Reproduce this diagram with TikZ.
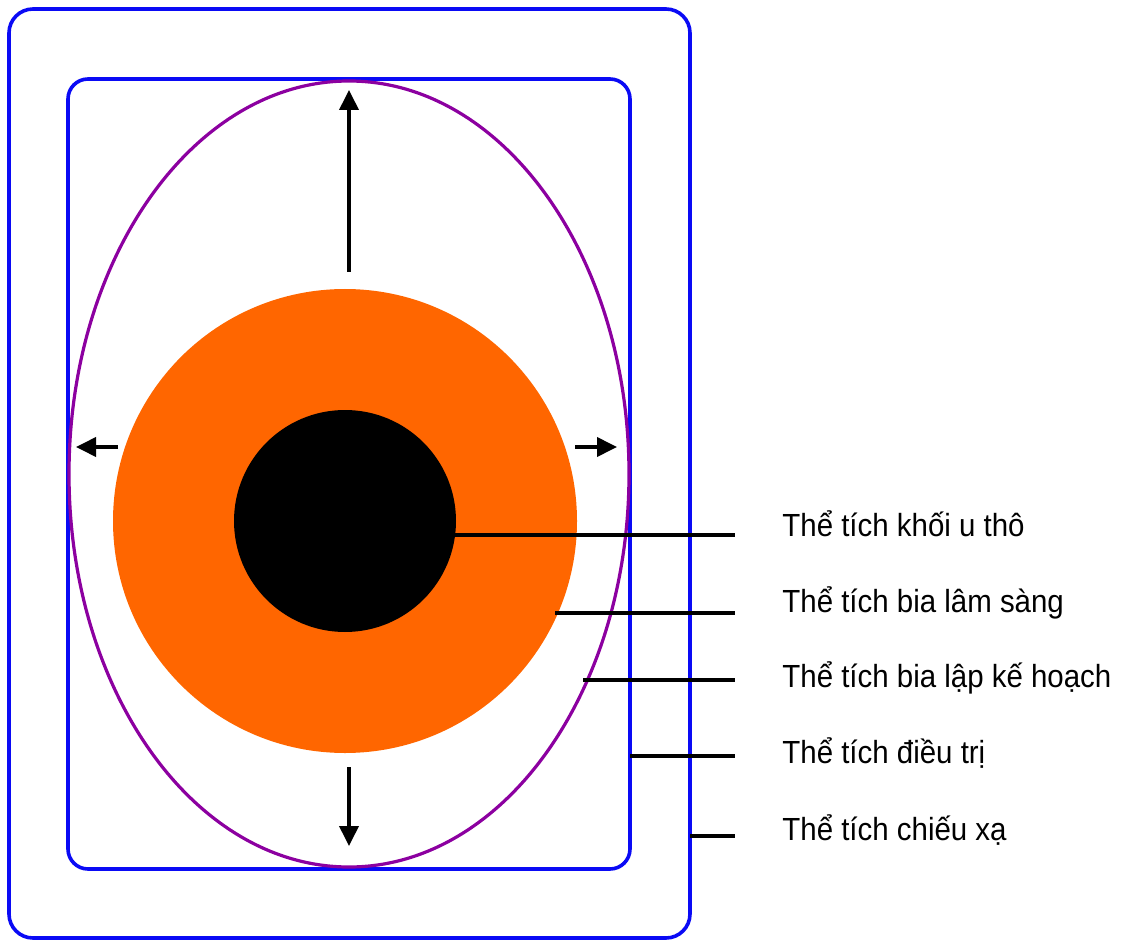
\documentclass[tikz,border=0pt]{standalone}
\usepackage{fontspec}
\setmainfont{Liberation Sans}[FakeStretch=0.92]
\usetikzlibrary{arrows.meta}
\definecolor{volblue}{RGB}{10,10,245}
\definecolor{volpurple}{RGB}{140,0,160}
\definecolor{tumororange}{RGB}{255,102,0}

\begin{document}
\begin{tikzpicture}[x=0.5pt, y=-0.5pt,
    box/.style={volblue, line width=1.8pt},
    margin/.style={-{Triangle[length=10pt, width=9.5pt]}, line width=1.9pt},
    leader/.style={line width=1.9pt},
    vlabel/.style={anchor=base west, inner sep=0pt, font=\fontsize{16}{19}\selectfont},
]
\useasboundingbox (0,0) rectangle (1124,941);

%% --- thể tích chiếu xạ (khung ngoài) ---
\draw[box, rounded corners=12pt] (9,9) rectangle (690,938);

%% --- thể tích điều trị (khung trong) ---
\draw[box, rounded corners=10pt] (68,79) rectangle (630,869);

%% --- thể tích bia lập kế hoạch ---
\draw[volpurple, line width=1.6pt] (349,474) ellipse [x radius=280, y radius=393];

%% --- thể tích bia lâm sàng ---
\fill[tumororange] (345,521) circle (232);

%% --- khối u thô ---
\fill[black] (345,521) circle (111);

%% --- mũi tên mở rộng ---
\coordinate (upS) at (349,272);   \coordinate (upE) at (349,90);
\coordinate (dnS) at (349,767);   \coordinate (dnE) at (349,846);
\coordinate (lfS) at (118,447);   \coordinate (lfE) at (76,447);
\coordinate (rtS) at (575,447);   \coordinate (rtE) at (617,447);
\draw[margin] (upS) -- (upE);
\draw[margin] (dnS) -- (dnE);
\draw[margin] (lfS) -- (lfE);
\draw[margin] (rtS) -- (rtE);

%% --- nhãn ---
\node[vlabel] (lGTV) at (782,536) {Thể tích khối u thô};
\node[vlabel] (lCTV) at (782,612) {Thể tích bia lâm sàng};
\node[vlabel] (lPTV) at (782,687) {Thể tích bia lập kế hoạch};
\node[vlabel] (lTV)  at (782,763) {Thể tích điều trị};
\node[vlabel] (lIV)  at (782,840) {Thể tích chiếu xạ};

%% --- đường chỉ dẫn ---
\coordinate (gGTV) at (455,535);  \coordinate (eGTV) at (735,535);
\coordinate (gCTV) at (555,613);  \coordinate (eCTV) at (735,613);
\coordinate (gPTV) at (583,680);  \coordinate (ePTV) at (735,680);
\coordinate (gTV)  at (630,756);  \coordinate (eTV)  at (735,756);
\coordinate (gIV)  at (690,836);  \coordinate (eIV)  at (735,836);
\draw[leader] (gGTV) -- (eGTV);
\draw[leader] (gCTV) -- (eCTV);
\draw[leader] (gPTV) -- (ePTV);
\draw[leader] (gTV)  -- (eTV);
\draw[leader] (gIV)  -- (eIV);

\end{tikzpicture}
\end{document}
